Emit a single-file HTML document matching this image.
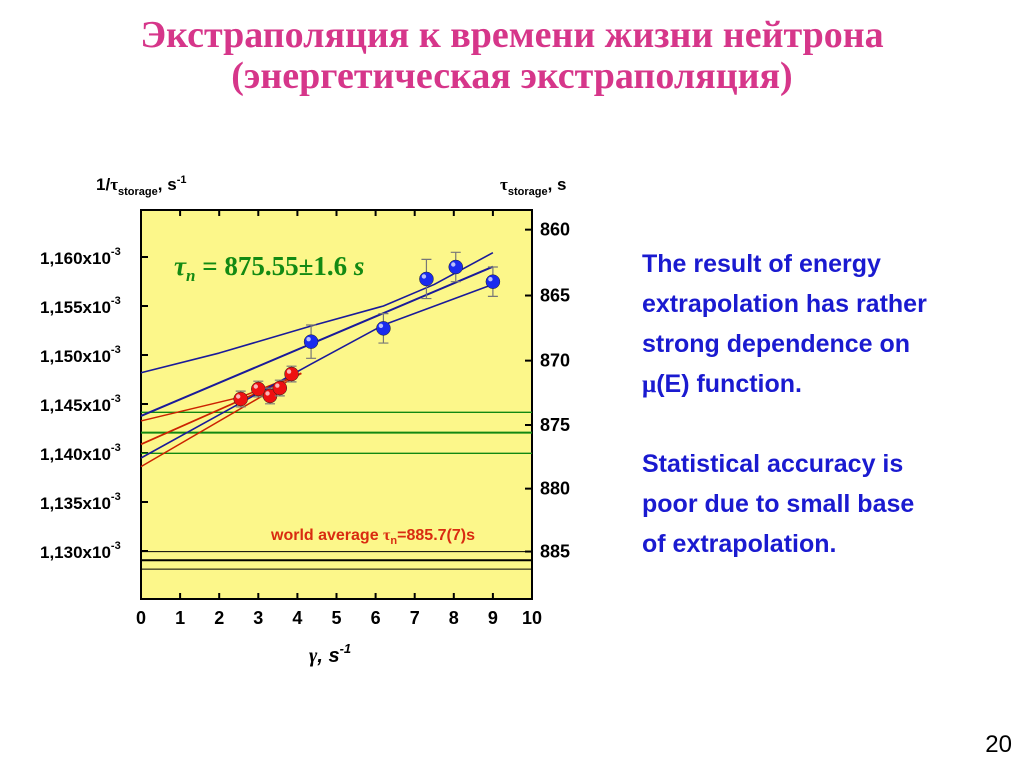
<!DOCTYPE html>
<html><head><meta charset="utf-8"><style>
body{margin:0;width:1024px;height:768px;background:#fff;overflow:hidden;font-family:"Liberation Sans",sans-serif}
</style></head><body>
<svg id="chart" width="1024" height="768" xmlns="http://www.w3.org/2000/svg">
<text x="512" y="47" text-anchor="middle" font-family="Liberation Serif, Noto Serif CJK SC, serif" font-weight="bold" font-size="38" fill="#d6368a">Экстраполяция к времени жизни нейтрона</text>
<text x="512" y="88" text-anchor="middle" font-family="Liberation Serif, Noto Serif CJK SC, serif" font-weight="bold" font-size="38" fill="#d6368a">(энергетическая экстраполяция)</text>
<rect x="141" y="210" width="391" height="389" fill="#fcf78a" stroke="#000" stroke-width="2"/>
<g id="marks"></g>
<text x="96" y="190" font-weight="bold" font-size="17">1/<tspan font-family="Liberation Serif, serif">τ</tspan><tspan font-size="11" dy="5">storage</tspan><tspan dy="-5">, s</tspan><tspan font-size="11" dy="-7">-1</tspan></text>
<text x="500" y="190" font-weight="bold" font-size="17"><tspan font-family="Liberation Serif, serif">τ</tspan><tspan font-size="11" dy="5">storage</tspan><tspan dy="-5">, s</tspan></text>
<text x="309" y="662" font-weight="bold" font-style="italic" font-size="20"><tspan font-family="Liberation Serif, serif">γ</tspan>, s<tspan font-size="13" dy="-9">-1</tspan></text>
<text x="174" y="275" font-family="Liberation Serif, serif" font-weight="bold" font-size="27" fill="#138a13"><tspan font-style="italic">τ</tspan><tspan font-style="italic" font-size="17" dy="6">n</tspan><tspan dy="-6"> = 875.55±1.6 </tspan><tspan font-style="italic">s</tspan></text>
<text x="271" y="540" font-weight="bold" font-size="16" fill="#d92b10">world average <tspan font-family="Liberation Serif, serif">τ</tspan><tspan font-size="11" dy="4">n</tspan><tspan dy="-4">=885.7(7)s</tspan></text>
<g font-weight="bold" font-size="25" fill="#1a1ad0">
<text x="642" y="272">The result of energy</text>
<text x="642" y="312">extrapolation has rather</text>
<text x="642" y="352">strong dependence on</text>
<text x="642" y="392"><tspan font-family="Liberation Serif, serif">μ</tspan>(E) function.</text>
<text x="642" y="472">Statistical accuracy is</text>
<text x="642" y="512">poor due to small base</text>
<text x="642" y="552">of extrapolation.</text>
</g>
<text x="1012" y="752" text-anchor="end" font-size="24">20</text>
</svg>
<script>
const xTicks=[0,1,2,3,4,5,6,7,8,9,10];
const leftTicks=[1.160,1.155,1.150,1.145,1.140,1.135,1.130];
const rightTicks=[860,865,870,875,880,885];
const blueX=[4.35,6.2,7.3,8.05,9.0];
const blueY=[1.15136,1.15272,1.15776,1.15898,1.15748];
const blueErr=[0.0017,0.0015,0.0020,0.0015,0.0015];
const redX=[2.55,3.0,3.3,3.55,3.85];
const redY=[1.14551,1.14653,1.14582,1.14663,1.14806];
const redErr=[0.0008,0.0008,0.0008,0.0008,0.0008];
const blueFitX=[0,9];const blueFitY=[1.14378,1.15901];
const blueUpX=[0,2,4.35,6.2,7.5,9];const blueUpY=[1.14819,1.15020,1.15296,1.15500,1.15720,1.16044];
const blueLoX=[0,4.35,6.2,9];const blueLoY=[1.13949,1.14908,1.15306,1.15721];
const redFitX=[0,4.1];const redFitY=[1.14089,1.14813];
const redUpX=[0,2.55,4.1];const redUpY=[1.14327,1.14571,1.14813];
const redLoX=[0,4.1];const redLoY=[1.13861,1.14813];
const greenY=[1.14415,1.14208,1.13997];
const blackY=[1.12994,1.12905,1.12815];
const X=v=>141+v*39.1;
const Y=v=>257+(1.160-v)/0.005*49;
const NS='http://www.w3.org/2000/svg';
const g=document.getElementById('marks');
const svg=document.getElementById('chart');
function mk(t,a,p){const e=document.createElementNS(NS,t);for(const k in a)e.setAttribute(k,a[k]);(p||g).appendChild(e);return e;}
xTicks.forEach((t,i)=>{
 const l=mk('line',{x1:X(t),x2:X(t),y1:599,y2:593,stroke:'#000','stroke-width':2});
 
 
 const l2=mk('line',{x1:X(t),x2:X(t),y1:210,y2:216,stroke:'#000','stroke-width':2});
 
 
 const tx=mk('text',{x:X(t),y:624,'text-anchor':'middle','font-weight':'bold','font-size':18},svg);
 tx.textContent=t;
 
 
});
leftTicks.forEach(t=>{
 const l=mk('line',{x1:141,x2:148,y1:Y(t),y2:Y(t),stroke:'#000','stroke-width':2});
 
 
 const tx=mk('text',{x:40,y:Y(t)+7,'font-weight':'bold','font-size':17},svg);
 tx.innerHTML=t.toFixed(3).replace('.',',')+'x10<tspan font-size="11" dy="-9">-3</tspan>';
 
 
});
rightTicks.forEach(t=>{
 const y=Y(1/t*1000);
 const l=mk('line',{x1:525,x2:532,y1:y,y2:y,stroke:'#000','stroke-width':2});
 
 
 const tx=mk('text',{x:540,y:y+6,'font-weight':'bold','font-size':18},svg);
 tx.textContent=t;
 
 
});
greenY.forEach((v,i)=>{
 const l=mk('line',{x1:141,x2:532,y1:Y(v),y2:Y(v),stroke:'#118811','stroke-width':i==1?2:1.3});
 
 
});
blackY.forEach((v,i)=>{
 const l=mk('line',{x1:141,x2:532,y1:Y(v),y2:Y(v),stroke:'#000','stroke-width':i==1?2:1});
 
 
});
function poly(xs,ys,c,w,name){
 const p=mk('polyline',{points:xs.map((x,i)=>X(x)+','+Y(ys[i])).join(' '),fill:'none',stroke:c,'stroke-width':w,'stroke-linejoin':'round'});
 
 
}
poly(redUpX,redUpY,'#cc2200',1.5,'red-fit-upper');
poly(redFitX,redFitY,'#cc2200',1.8,'red-fit');
poly(redLoX,redLoY,'#cc2200',1.5,'red-fit-lower');
poly(blueUpX,blueUpY,'#1a1a9a',1.6,'blue-fit-upper');
poly(blueFitX,blueFitY,'#1a1a9a',2,'blue-fit');
poly(blueLoX,blueLoY,'#1a1a9a',1.6,'blue-fit-lower');
function pts(xs,ys,es,c,name){
 xs.forEach((x,i)=>{
  const cx=X(x),cy=Y(ys[i]),e=es[i]/0.005*49;
  const eb=mk('path',{d:`M${cx},${cy-e}V${cy+e}M${cx-5},${cy-e}H${cx+5}M${cx-5},${cy+e}H${cx+5}`,stroke:'#777','stroke-width':1.2,fill:'none'});
  
  
  const c1=mk('circle',{cx:cx,cy:cy,r:7,fill:c,stroke:'#222','stroke-width':0.5});
  
  
  const h=mk('circle',{cx:cx-2.5,cy:cy-2.5,r:2.2,fill:'#fff',opacity:0.7});
  
  
 });
}
pts(redX,redY,redErr,'#ee1111','red');
pts(blueX,blueY,blueErr,'#1a2bee','blue');
</script>
</body></html>
